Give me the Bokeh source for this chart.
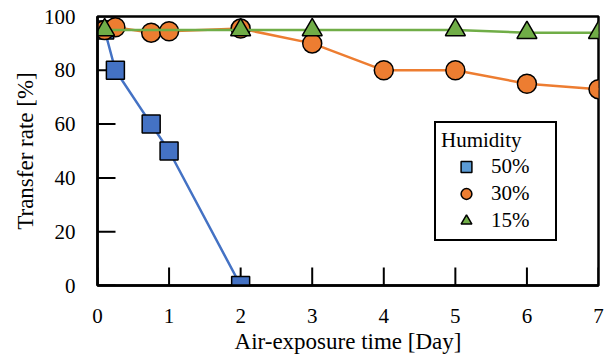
import math
from bokeh.plotting import figure
from bokeh.models import Range1d, FixedTicker, Legend, LegendItem
from bokeh.embed import file_html
from bokeh.resources import INLINE

x50 = [0.1, 0.25, 0.75, 1, 2]
y50 = [95, 80, 60, 50, 0]
x30 = [0.1, 0.25, 0.75, 1, 2, 3, 4, 5, 6, 7]
y30 = [95, 96, 94, 94.5, 95.5, 90, 80, 80, 75, 73]
x15 = [0.1, 2, 3, 5, 6, 7]
y15 = [95, 95, 95, 95, 94, 94]
xticks = [0, 1, 2, 3, 4, 5, 6, 7]
yticks = [0, 20, 40, 60, 80, 100]

FONT = "'Liberation Serif', 'Times New Roman', serif"

p = figure(width=612, height=356, output_backend="svg", toolbar_location=None,
           x_range=Range1d(0, 7), y_range=Range1d(0, 100),
           min_border_left=97, min_border_right=14, min_border_top=16, min_border_bottom=71)
p.xgrid.visible = False
p.ygrid.visible = False
p.outline_line_color = "black"
p.outline_line_width = 2.5
p.outline_line_alpha = 1
p.background_fill_color = "white"
p.border_fill_color = "white"

for ax, ticks in ((p.xaxis[0], xticks), (p.yaxis[0], yticks)):
    ax.ticker = FixedTicker(ticks=ticks)
    ax.major_tick_in = 0
    ax.major_tick_out = 0
    ax.minor_tick_in = 0
    ax.minor_tick_out = 0
    ax.axis_line_width = 2.5
    ax.axis_line_color = "black"
    ax.major_label_text_font = FONT
    ax.major_label_text_font_size = "21px"
    ax.major_label_text_color = "black"
    ax.axis_label_text_font = FONT
    ax.axis_label_text_font_size = "23px"
    ax.axis_label_text_font_style = "normal"
    ax.axis_label_text_color = "black"

p.xaxis.axis_label = "Air-exposure time [Day]"
p.yaxis.axis_label = "Transfer rate [%]"
p.xaxis.major_label_standoff = 23
p.yaxis.major_label_standoff = 22
p.xaxis.axis_label_standoff = 3
p.yaxis.axis_label_standoff = 3

# inward tick marks drawn at the tick positions
p.ray(x=xticks, y=[0] * len(xticks), length=18, length_units="screen",
      angle=math.pi / 2, line_color="black", line_width=2)
p.ray(x=[0] * len(yticks), y=yticks, length=18, length_units="screen",
      angle=0, line_color="black", line_width=2)

blue, orange, green = "#4472C4", "#ED7D31", "#70AD47"

p.line(x50, y50, line_color=blue, line_width=2.5)
s50 = p.scatter(x50, y50, marker="square", size=18, fill_color=blue, line_color="black", line_width=1.5)
p.line(x30, y30, line_color=orange, line_width=2.5)
s30 = p.scatter(x30, y30, marker="circle", size=19, fill_color=orange, line_color="black", line_width=1.5)
p.line(x15, y15, line_color=green, line_width=2.5)
s15 = p.scatter(x15, y15, marker="triangle", size=20, fill_color=green, line_color="black", line_width=1.5)

# legend swatch for 50% uses the lighter blue shown in the reference legend
s50_key = p.scatter(x50, y50, marker="square", size=18, fill_color="#5B9BD5",
                    line_color="black", line_width=1.5, visible=False)

legend = Legend(items=[LegendItem(label="50%", renderers=[s50_key]),
                       LegendItem(label="30%", renderers=[s30]),
                       LegendItem(label="15%", renderers=[s15])],
                location=(337, 44), title="Humidity",
                title_text_font=FONT, title_text_font_size="21px", title_text_font_style="normal",
                title_text_color="black",
                label_text_font=FONT, label_text_font_size="21px", label_text_color="black",
                border_line_color="black", border_line_width=2, border_line_alpha=1,
                background_fill_alpha=1, glyph_width=50, glyph_height=27,
                label_height=24, label_width=59, spacing=0, padding=5, margin=0,
                title_standoff=0, label_standoff=0, inactive_fill_alpha=0,
                click_policy="none")
p.add_layout(legend, "center")

open("out.html", "w").write(file_html(p, INLINE))
